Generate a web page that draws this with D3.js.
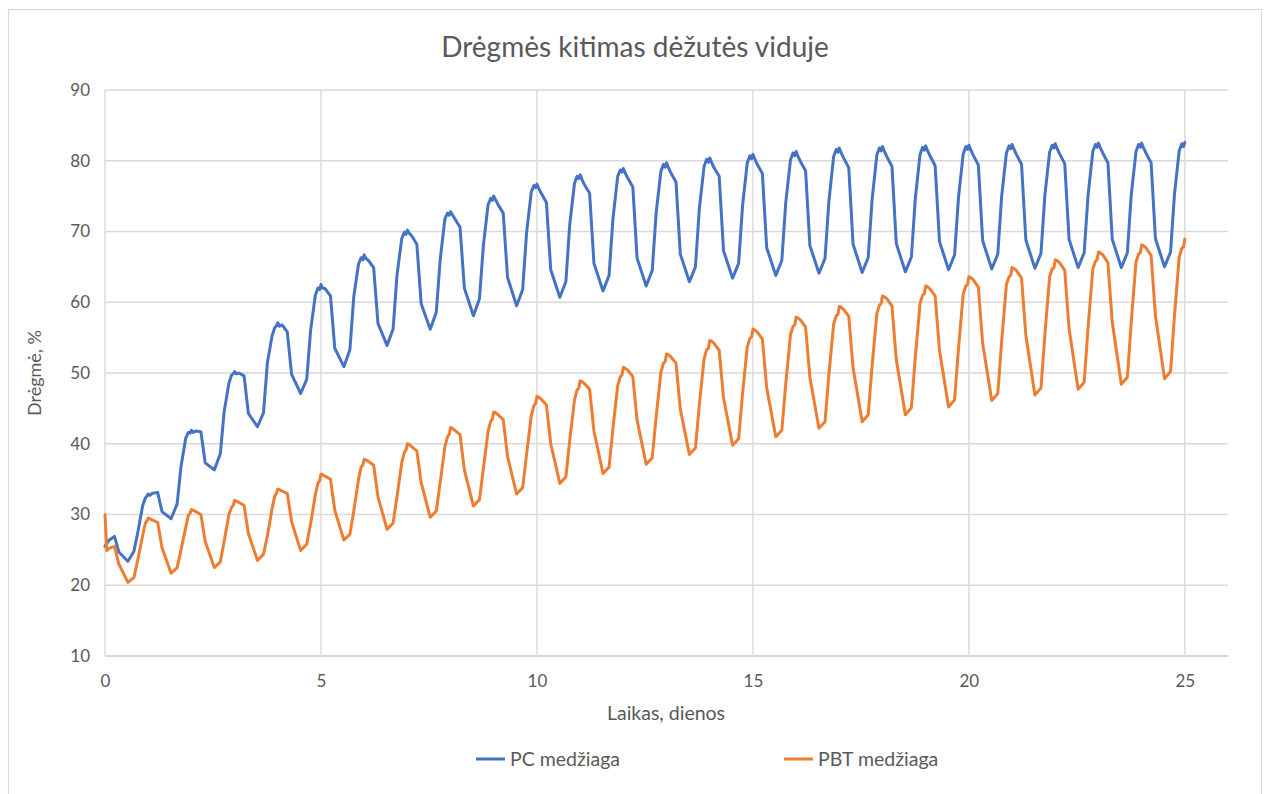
<!DOCTYPE html>
<html>
<head>
<meta charset="utf-8">
<script src="https://cdn.jsdelivr.net/npm/d3@7"></script>
<style>
  html, body { margin: 0; padding: 0; background: #ffffff; }
  svg { display: block; font-family: Lato, "Open Sans", "Noto Sans", sans-serif; }
</style>
</head>
<body>
<svg id="chart" width="1267" height="794"></svg>
<script>
// Sampling instants within each day (fraction of a day)
const dayPhases = [0, 0.04, 0.1, 0.22, 0.32, 0.53, 0.67, 0.76, 0.87, 0.93, 0.97];

// Humidity inside the box, %, one row per day (days 0..24), PC material
const pcRows = [
  [25.5, 25.9, 26.4, 26.9, 24.7, 23.4, 24.8, 27.5, 31.2, 32.3, 32.6],
  [32.9, 32.7, 33.0, 33.1, 30.4, 29.4, 31.5, 36.8, 40.8, 41.6, 41.5],
  [41.9, 41.6, 41.8, 41.7, 37.3, 36.3, 38.6, 44.6, 48.6, 49.7, 49.9],
  [50.2, 49.9, 50.0, 49.6, 44.3, 42.4, 44.4, 51.5, 55.3, 56.4, 56.7],
  [57.1, 56.6, 56.8, 55.8, 49.8, 47.1, 49.1, 56.0, 61.0, 62.0, 61.8],
  [62.5, 62.0, 61.9, 60.9, 53.5, 50.9, 53.3, 60.8, 65.4, 66.3, 66.0],
  [66.7, 66.2, 65.9, 64.9, 57.0, 53.9, 56.2, 63.8, 69.0, 69.9, 69.6],
  [70.2, 69.8, 69.4, 68.2, 59.8, 56.2, 58.6, 66.0, 71.8, 72.6, 72.3],
  [72.8, 72.4, 71.8, 70.6, 62.0, 58.1, 60.5, 68.0, 73.8, 74.7, 74.4],
  [75.0, 74.5, 73.8, 72.6, 63.5, 59.5, 61.8, 69.8, 75.6, 76.5, 76.2],
  [76.7, 76.1, 75.4, 74.1, 64.6, 60.7, 62.9, 71.0, 76.8, 77.8, 77.5],
  [78.0, 77.4, 76.6, 75.4, 65.5, 61.6, 63.8, 71.8, 77.8, 78.7, 78.4],
  [78.9, 78.3, 77.6, 76.3, 66.2, 62.3, 64.5, 72.6, 78.5, 79.5, 79.1],
  [79.7, 79.1, 78.3, 77.0, 66.8, 62.9, 65.0, 73.2, 79.2, 80.2, 79.8],
  [80.4, 79.8, 79.0, 77.8, 67.3, 63.4, 65.5, 73.6, 79.7, 80.7, 80.3],
  [80.9, 80.3, 79.5, 78.2, 67.7, 63.8, 65.9, 74.0, 80.1, 81.1, 80.7],
  [81.3, 80.7, 79.9, 78.6, 68.0, 64.1, 66.2, 74.3, 80.6, 81.6, 81.2],
  [81.8, 81.2, 80.4, 79.0, 68.2, 64.2, 66.3, 74.5, 80.8, 81.8, 81.4],
  [82.0, 81.4, 80.6, 79.2, 68.3, 64.3, 66.4, 74.6, 80.9, 81.9, 81.5],
  [82.1, 81.5, 80.7, 79.3, 68.6, 64.6, 66.7, 74.8, 81.0, 82.0, 81.6],
  [82.2, 81.6, 80.8, 79.4, 68.7, 64.7, 66.8, 75.0, 81.1, 82.1, 81.7],
  [82.3, 81.7, 80.9, 79.5, 68.8, 64.8, 66.9, 75.1, 81.2, 82.2, 81.8],
  [82.4, 81.8, 81.0, 79.6, 68.9, 64.9, 67.0, 75.1, 81.3, 82.3, 81.9],
  [82.5, 81.9, 81.1, 79.7, 68.9, 64.9, 67.0, 75.2, 81.3, 82.3, 81.9],
  [82.5, 81.9, 81.1, 79.7, 69.0, 65.0, 67.1, 75.2, 81.4, 82.4, 82.0]
];
const pcLast = 82.6;   // reading at day 25

// Same layout for the PBT material
const pbtRows = [
  [30.0, 24.9, 25.2, 25.5, 23.0, 20.4, 21.1, 23.6, 27.0, 28.7, 29.1],
  [29.5, 29.4, 29.2, 28.9, 25.3, 21.7, 22.5, 25.0, 28.2, 29.9, 30.2],
  [30.7, 30.6, 30.4, 30.0, 26.2, 22.5, 23.3, 26.3, 30.0, 31.0, 31.3],
  [32.0, 31.9, 31.7, 31.3, 27.3, 23.5, 24.4, 27.0, 30.9, 32.6, 33.0],
  [33.6, 33.5, 33.3, 33.0, 29.0, 24.9, 25.8, 28.7, 32.8, 34.4, 34.8],
  [35.7, 35.6, 35.4, 35.0, 30.6, 26.4, 27.2, 30.5, 35.0, 36.7, 37.0],
  [37.8, 37.7, 37.5, 37.0, 32.5, 27.9, 28.8, 32.5, 37.3, 38.8, 39.1],
  [40.0, 39.9, 39.6, 39.0, 34.5, 29.6, 30.5, 34.5, 39.6, 41.0, 41.3],
  [42.3, 42.2, 41.9, 41.3, 36.3, 31.2, 32.1, 36.5, 41.8, 43.2, 43.5],
  [44.5, 44.4, 44.1, 43.4, 38.2, 32.9, 33.8, 38.5, 44.0, 45.4, 45.7],
  [46.7, 46.6, 46.3, 45.5, 40.0, 34.4, 35.3, 40.5, 46.2, 47.6, 47.9],
  [48.9, 48.8, 48.5, 47.7, 41.8, 35.8, 36.7, 42.2, 48.2, 49.5, 49.7],
  [50.8, 50.7, 50.4, 49.5, 43.3, 37.1, 38.0, 43.8, 50.1, 51.4, 51.6],
  [52.7, 52.6, 52.3, 51.4, 44.9, 38.5, 39.4, 45.5, 52.0, 53.3, 53.5],
  [54.6, 54.5, 54.2, 53.2, 46.5, 39.8, 40.7, 47.0, 53.7, 54.9, 55.1],
  [56.2, 56.1, 55.8, 54.8, 47.9, 41.0, 41.9, 48.4, 55.4, 56.6, 56.8],
  [57.9, 57.8, 57.5, 56.5, 49.4, 42.2, 43.1, 49.8, 56.9, 58.1, 58.3],
  [59.4, 59.3, 59.0, 58.0, 50.7, 43.1, 44.1, 51.0, 58.4, 59.6, 59.8],
  [60.9, 60.8, 60.5, 59.5, 51.9, 44.1, 45.1, 52.2, 59.8, 61.0, 61.2],
  [62.3, 62.2, 61.9, 60.9, 53.2, 45.2, 46.2, 53.4, 61.2, 62.3, 62.5],
  [63.6, 63.5, 63.2, 62.1, 54.2, 46.1, 47.1, 54.5, 62.5, 63.6, 63.8],
  [64.9, 64.8, 64.5, 63.4, 55.3, 46.9, 47.9, 55.4, 63.6, 64.7, 64.9],
  [66.0, 65.9, 65.6, 64.5, 56.3, 47.7, 48.7, 56.4, 64.7, 65.8, 66.0],
  [67.1, 67.0, 66.7, 65.6, 57.2, 48.4, 49.4, 57.2, 65.7, 66.8, 67.0],
  [68.1, 68.0, 67.7, 66.6, 58.1, 49.2, 50.2, 58.0, 66.4, 67.6, 67.8]
];
const pbtLast = 68.9;

const seriesNames = ["PC medžiaga", "PBT medžiaga"];
const seriesColors = ["#4472C4", "#ED7D31"];
const xTicks = [0, 5, 10, 15, 20, 25];
const yTicks = [10, 20, 30, 40, 50, 60, 70, 80, 90];

(function draw() {
  // Flatten daily rows into (day, value) points
  function toPoints(rows, last) {
    const pts = [];
    rows.forEach((row, day) => {
      row.forEach((v, i) => pts.push([day + dayPhases[i], v]));
    });
    pts.push([rows.length, last]);
    return pts;
  }
  const series = [toPoints(pcRows, pcLast), toPoints(pbtRows, pbtLast)];

  const svg = d3.select("#chart");
  const plotLeft = 105, plotRight = 1228, plotTop = 90, plotBottom = 656;
  const x = d3.scaleLinear().domain([0, 26]).range([plotLeft, plotRight]);
  const y = d3.scaleLinear().domain([10, 90]).range([plotBottom, plotTop]);
  const textColor = "#595959";
  const gridColor = "#d9d9d9";

  // Outer chart frame
  svg.append("rect")
    .attr("x", 8.5).attr("y", 9.5).attr("width", 1253).attr("height", 800)
    .attr("fill", "#ffffff").attr("stroke", gridColor).attr("stroke-width", 1.2);

  // Title
  svg.append("text")
    .attr("x", 635).attr("y", 57)
    .attr("text-anchor", "middle")
    .attr("fill", textColor)
    .attr("font-size", 28)
    .text("Drėgmės kitimas dėžutės viduje");

  // Gridlines
  const grid = svg.append("g");
  grid.selectAll("line.h").data(yTicks).join("line")
    .attr("class", "h")
    .attr("x1", plotLeft).attr("x2", plotRight)
    .attr("y1", d => y(d)).attr("y2", d => y(d))
    .attr("stroke", d => d === 10 ? "#c9c9c9" : gridColor)
    .attr("stroke-width", 1.4);
  grid.selectAll("line.v").data(xTicks).join("line")
    .attr("class", "v")
    .attr("x1", d => x(d)).attr("x2", d => x(d))
    .attr("y1", plotTop).attr("y2", plotBottom)
    .attr("stroke", gridColor)
    .attr("stroke-width", 1.4);

  // Tick labels via d3 axes (domain and tick marks hidden)
  const yAxis = svg.append("g")
    .attr("transform", `translate(${plotLeft},0)`)
    .call(d3.axisLeft(y).tickValues(yTicks).tickSize(0).tickPadding(15));
  const xAxis = svg.append("g")
    .attr("transform", `translate(0,${plotBottom})`)
    .call(d3.axisBottom(x).tickValues(xTicks).tickSize(0).tickPadding(19));
  [yAxis, xAxis].forEach(a => {
    a.select(".domain").remove();
    a.selectAll("text")
      .attr("fill", textColor)
      .attr("font-size", 17)
      .attr("font-family", "Lato, 'Open Sans', sans-serif");
  });

  // Axis titles
  svg.append("text")
    .attr("x", 666).attr("y", 720)
    .attr("text-anchor", "middle")
    .attr("fill", textColor).attr("font-size", 19.5)
    .text("Laikas, dienos");
  svg.append("text")
    .attr("transform", "translate(41,373) rotate(-90)")
    .attr("text-anchor", "middle")
    .attr("fill", textColor).attr("font-size", 18)
    .text("Drėgmė, %");

  // Data lines
  const line = d3.line().x(d => x(d[0])).y(d => y(d[1]));
  svg.append("g").selectAll("path").data(series).join("path")
    .attr("d", line)
    .attr("fill", "none")
    .attr("stroke", (d, i) => seriesColors[i])
    .attr("stroke-width", 3)
    .attr("stroke-linejoin", "round")
    .attr("stroke-linecap", "round");

  // Legend
  const legendX = [476, 784];
  const legend = svg.append("g");
  seriesNames.forEach((name, i) => {
    legend.append("line")
      .attr("x1", legendX[i]).attr("x2", legendX[i] + 29)
      .attr("y1", 759).attr("y2", 759)
      .attr("stroke", seriesColors[i]).attr("stroke-width", 3);
    legend.append("text")
      .attr("x", legendX[i] + 34).attr("y", 766)
      .attr("fill", textColor).attr("font-size", 19.5)
      .text(name);
  });
})();
</script>
</body>
</html>
